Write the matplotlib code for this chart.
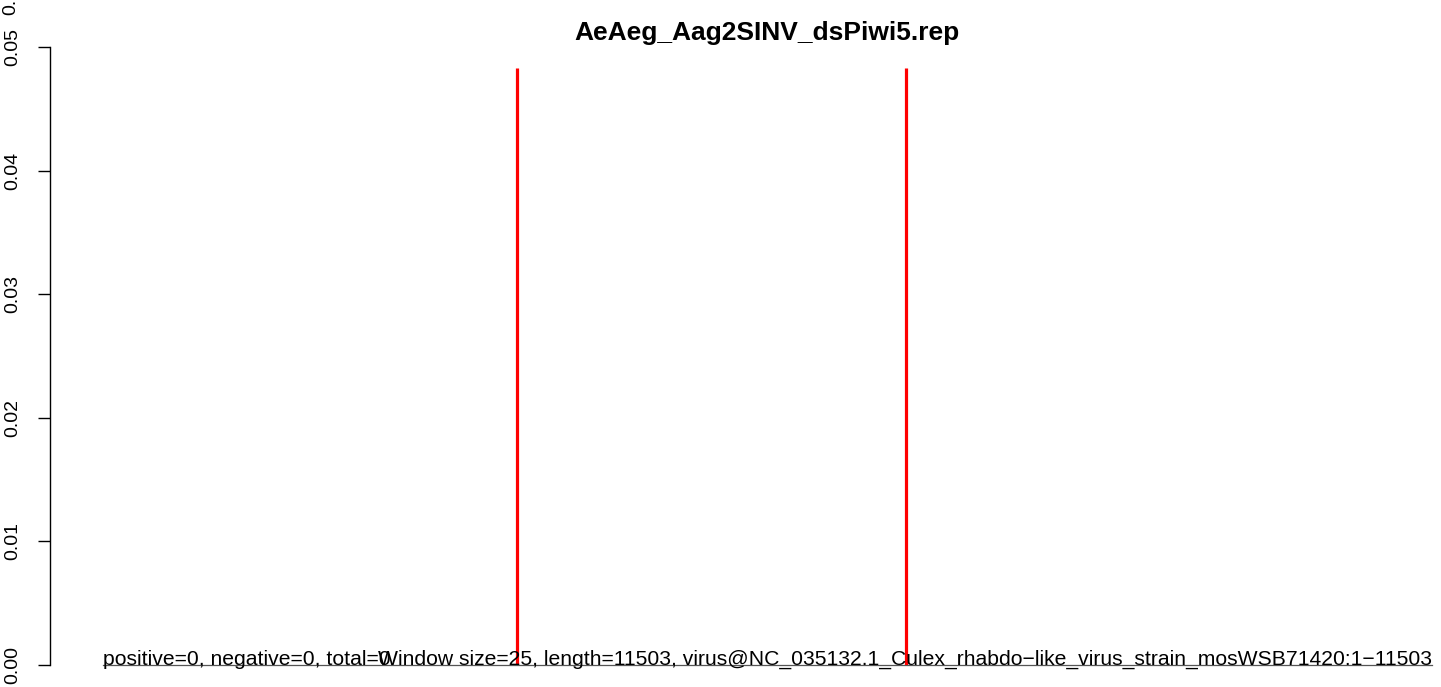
import numpy as np
import matplotlib
matplotlib.use('Agg')
import matplotlib.pyplot as plt

plt.rcParams['font.family'] = ['Liberation Sans', 'DejaVu Sans']

title = 'AeAeg_Aag2SINV_dsPiwi5.rep'
genome_len = 11503
coverage_x = [1, genome_len]
coverage_y = [0, 0]
marker_pos = [3584, 6951]
marker_top = 0.0483
yticks = [0.00, 0.01, 0.02, 0.03, 0.04, 0.05]
left_note = 'positive=0, negative=0, total=0'
right_note = ('Window size=25, length=11503, '
              'virus@NC_035132.1_Culex_rhabdo\u2212like_virus_strain_mosWSB71420:1\u221211503')

W, H = 1441, 687
fig = plt.figure(figsize=(W / 100, H / 100), dpi=100)
# axes: left edge at px 50, y=0 at px 665, y=0.05 at px 47
ax = fig.add_axes([50 / W, (H - 665) / H, (W - 50) / W, (665 - 47) / H])
ax.set_ylim(0, 0.05)
px = (genome_len - 1) / (1432 - 103)
ax.set_xlim(1 - 53 * px, genome_len + 9 * px)

ax.plot(coverage_x, coverage_y, color='#555555', lw=0.9, clip_on=False)
for xp in marker_pos:
    ax.plot([xp, xp], [0, marker_top], color='red', lw=2.3, solid_capstyle='butt')

ax.text(coverage_x[0], 0, left_note, ha='left', va='baseline', fontsize=15.2)
ax.text(coverage_x[1], 0, right_note, ha='right', va='baseline', fontsize=15.2)

for s in ['top', 'right', 'bottom']:
    ax.spines[s].set_visible(False)
ax.spines['left'].set_bounds(0, 0.05)
ax.spines['left'].set_linewidth(1.0)
ax.set_xticks([])
ax.set_yticks(yticks)
ax.set_yticklabels(['%.2f' % v for v in yticks], rotation=90, va='center', fontsize=14)
ax.tick_params(axis='y', length=9, width=1.0, pad=11.5)
ax.patch.set_visible(False)

# clipped duplicate label at the very top edge
fig.text(11 / W, 1 + 4 / H, '0.05', rotation=90, ha='center', va='center', fontsize=14)

fig.text(767 / W, (H - 33) / H, title, ha='center', va='center', fontsize=19, fontweight='bold')

fig.savefig('out.png', dpi=100)
